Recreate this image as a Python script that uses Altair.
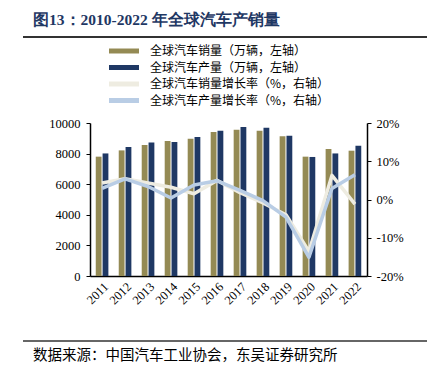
import altair as alt
import pandas as pd

years = ["2011", "2012", "2013", "2014", "2015", "2016", "2017", "2018", "2019", "2020", "2021", "2022"]
sales = [7800, 8210, 8560, 8820, 8970, 9410, 9560, 9500, 9130, 7800, 8300, 8190]
production = [8010, 8430, 8730, 8760, 9080, 9500, 9740, 9690, 9170, 7780, 8010, 8520]
sales_growth = [4.3, 5.4, 4.3, 3.2, 1.5, 5.0, 1.8, -0.9, -4.0, -13.6, 6.3, -1.2]
prod_growth = [2.9, 5.4, 3.4, 0.4, 3.8, 4.9, 2.4, -0.3, -4.6, -15.1, 2.9, 6.5]

s_sales = "全球汽车销量（万辆，左轴）"
s_prod = "全球汽车产量（万辆，左轴）"
s_sg = "全球汽车销量增长率（%，右轴）"
s_pg = "全球汽车产量增长率（%，右轴）"
series = [s_sales, s_prod, s_sg, s_pg]
colors = ["#948A54", "#1F3864", "#EEECE1", "#B9CDE5"]

title_text = "图13：2010-2022 年全球汽车产销量"
source_text = "数据来源：中国汽车工业协会，东吴证券研究所"

bar_df = pd.DataFrame({
    "year": years * 2,
    "series": [s_sales] * 12 + [s_prod] * 12,
    "value": sales + production,
})
line_df = pd.DataFrame({
    "year": years * 2,
    "series": [s_sg] * 12 + [s_pg] * 12,
    "growth": sales_growth + prod_growth,
})

serif = "Liberation Serif"
cjk = "Noto Sans CJK SC"

xenc = alt.X("year:N", sort=years, title=None,
             scale=alt.Scale(paddingInner=0.45, paddingOuter=0.25),
             axis=alt.Axis(labelAngle=-45, labelFont=serif, labelFontSize=12.5,
                           labelColor="#000000", ticks=False, domainColor="#000000",
                           domainWidth=1.5, labelPadding=4, labelAlign="right",
                           labelBaseline="top"))

color = alt.Color("series:N", scale=alt.Scale(domain=series, range=colors),
                  legend=alt.Legend(title=None, orient="none", legendX=28, legendY=-78,
                                    symbolType="M-3,-0.5H3V0.5H-3Z", symbolSize=100,
                                    symbolStrokeWidth=0, labelFont=cjk, labelFontSize=12,
                                    labelColor="#000000", rowPadding=4.5, labelOffset=20,
                                    labelLimit=300))

bars = alt.Chart(bar_df).mark_bar().encode(
    x=xenc,
    xOffset=alt.XOffset("series:N", sort=[s_sales, s_prod],
                        scale=alt.Scale(paddingInner=0.15)),
    y=alt.Y("value:Q", title=None,
            scale=alt.Scale(domain=[0, 10000]),
            axis=alt.Axis(values=[0, 2000, 4000, 6000, 8000, 10000], grid=False, format="d",
                          labelFont=serif, labelFontSize=12.5, labelColor="#000000",
                          domainColor="#000000", domainWidth=1.5, tickColor="#000000",
                          tickSize=4, labelPadding=6)),
    color=color,
)

lines = alt.Chart(line_df).mark_line(strokeWidth=3.5, strokeJoin="round").encode(
    x=alt.X("year:N", sort=years),
    y=alt.Y("growth:Q", title=None,
            scale=alt.Scale(domain=[-20, 20]),
            axis=alt.Axis(orient="right", values=[-20, -10, 0, 10, 20], grid=False,
                          labelExpr="datum.value + '%'",
                          labelFont=serif, labelFontSize=12.5, labelColor="#000000",
                          domainColor="#000000", domainWidth=1.5, tickColor="#000000",
                          tickSize=4, labelPadding=5)),
    color=alt.Color("series:N", scale=alt.Scale(domain=series, range=colors), legend=None),
    order=alt.Order("series:N"),
)

deco_df = pd.DataFrame({"t": [title_text]})
title = alt.Chart(deco_df).mark_text(
    font=serif, fontSize=15.5, fontWeight="bold", color="#1F3864",
    align="left", baseline="middle").encode(
    text="t:N", x=alt.value(-57), y=alt.value(-103))

src_df = pd.DataFrame({"t": [source_text]})
source = alt.Chart(src_df).mark_text(
    font=cjk, fontSize=14.5, color="#000000", align="left", baseline="middle").encode(
    text="t:N", x=alt.value(-57), y=alt.value(233))

rule_df = pd.DataFrame({"k": [1]})
top_rule = alt.Chart(rule_df).mark_rule(color="#333333", strokeWidth=2).encode(
    x=alt.value(-67), x2=alt.value(338), y=alt.value(-86))
bot_rule = alt.Chart(rule_df).mark_rule(color="#333333", strokeWidth=1.5).encode(
    x=alt.value(-67), x2=alt.value(338), y=alt.value(218))

chart = alt.layer(bars, lines, title, source, top_rule, bot_rule).resolve_scale(
    y="independent"
).properties(
    width=277, height=153,
    autosize=alt.AutoSizeParams(type="none"),
    padding={"left": 82, "top": 115, "right": 60, "bottom": 92},
).configure_view(stroke=None)

chart.save("out.html", embed_options={"renderer": "svg", "actions": False})
